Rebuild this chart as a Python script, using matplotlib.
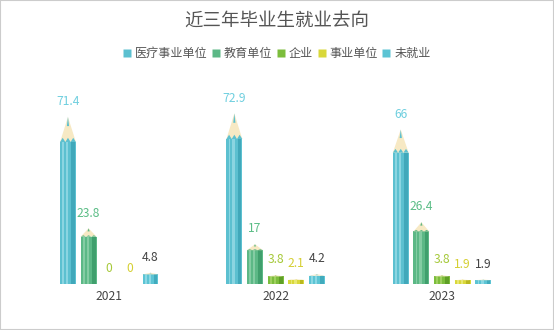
import numpy as np
import matplotlib.pyplot as plt
from matplotlib.patches import Polygon, Rectangle
from matplotlib.lines import Line2D

plt.rcParams['font.family'] = ['Noto Sans CJK SC', 'DejaVu Sans']

years = ['2021', '2022', '2023']
series = ['医疗事业单位', '教育单位', '企业', '事业单位', '未就业']
medical = [71.4, 72.9, 66]
education = [23.8, 17, 26.4]
company = [0, 3.8, 3.8]
institution = [0, 2.1, 1.9]
unemployed = [4.8, 4.2, 1.9]
values = [medical, education, company, institution, unemployed]

# body, light stripe, dark stripe, label colour
colors = [
    ('#5cc0d0', '#8bd5e1', '#41a8ba', '#6fcfdf'),
    ('#5cb886', '#84cca3', '#409f6d', '#5bbd86'),
    ('#7cbd3c', '#9fd060', '#5f9f26', '#a6c93a'),
    ('#d9d83a', '#e8e872', '#b9b820', '#d5cf32'),
    ('#5cc4d4', '#8bd8e4', '#41abbd', '#444444'),
]
tip_color = '#f7e9c4'


def pencil(ax, x, v, w, body, light, dark):
    if v <= 0:
        return
    b = v * 0.85
    ax.bar(x, b, w, color=body, linewidth=0)
    ax.bar(x - w * 0.30, b, w * 0.10, color=light, linewidth=0)
    ax.bar(x - w * 0.05, b, w * 0.14, color=light, linewidth=0)
    ax.bar(x + w * 0.33, b, w * 0.22, color=dark, linewidth=0)
    # wooden tip
    ax.add_patch(Polygon([(x - w / 2, b), (x, v), (x + w / 2, b)],
                         closed=True, color=tip_color, linewidth=0))
    # scalloped edge where the paint ends
    h = v * 0.025
    zig = [(x - w / 2, b), (x - w / 3, b + h), (x - w / 6, b), (x, b + h),
           (x + w / 6, b), (x + w / 3, b + h), (x + w / 2, b)]
    ax.add_patch(Polygon(zig, closed=True, color=body, linewidth=0))
    # graphite point
    ax.add_patch(Polygon([(x - w * 0.07, v - v * 0.055), (x, v),
                          (x + w * 0.07, v - v * 0.055)],
                         closed=True, color=body, linewidth=0))


fig = plt.figure(figsize=(5.54, 3.30), dpi=100)
ax = fig.add_axes([0.047, 0.1394, 0.901, 0.5673])

xs = np.arange(len(years))
step = 0.124
w = 0.095
for i, (vals, (body, light, dark, lc)) in enumerate(zip(values, colors)):
    for j, v in enumerate(vals):
        x = xs[j] + (i - 2) * step
        pencil(ax, x, v, w, body, light, dark)
        ax.annotate(f'{v:g}', (x, v), xytext=(0, 11), textcoords='offset points',
                    ha='center', va='center', fontsize=8.7, color=lc,
                    annotation_clip=False)

ax.set_xlim(-0.5, 2.5)
ax.set_ylim(0, 80)
ax.set_xticks(xs)
ax.set_xticklabels(years, fontsize=8.7, color='#444444')
ax.tick_params(axis='x', length=0, pad=4)
ax.set_yticks([])
for s in ax.spines.values():
    s.set_visible(False)

fig.text(0.5, 0.935, '近三年毕业生就业去向', ha='center', va='center',
         fontsize=13.3, color='#555555')

handles = [Line2D([], [], marker='s', linestyle='none', markersize=6,
                  markerfacecolor=c[0], markeredgecolor='none') for c in colors]
fig.legend(handles, series, loc='center', bbox_to_anchor=(0.5, 0.838), ncol=5,
           frameon=False, fontsize=8.7, labelcolor='#555555',
           handlelength=0.6, handletextpad=0.35, columnspacing=0.4)

fig.patches.append(Rectangle((0, 0), 1, 1, transform=fig.transFigure,
                             fill=False, edgecolor='#cccccc', linewidth=1.5))

fig.savefig('out.png', dpi=100)
